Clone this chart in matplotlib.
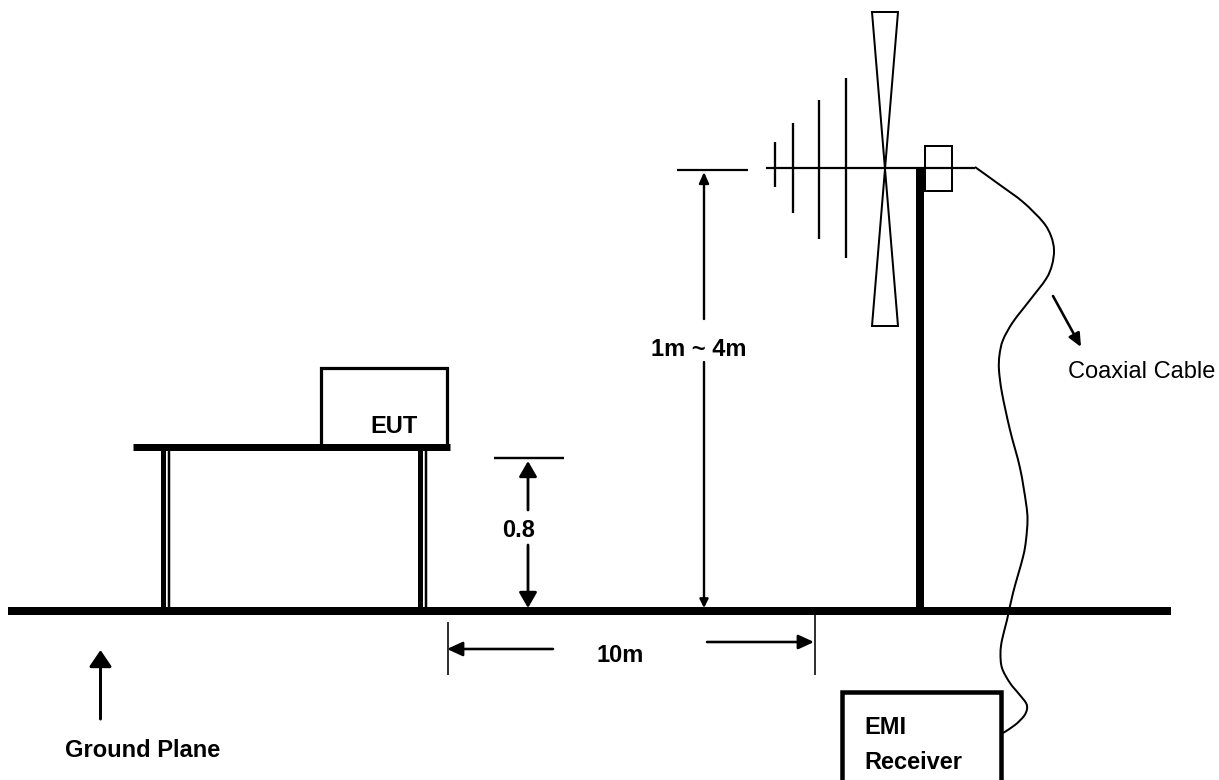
import matplotlib
matplotlib.use("Agg")
import matplotlib.pyplot as plt
from matplotlib.path import Path
from matplotlib.patches import PathPatch, Rectangle

plt.rcParams['font.family'] = ['Liberation Sans', 'DejaVu Sans']

# everything below is in picture pixels, y going down
cable_x = [975, 1000, 1023, 1043, 1051, 1054, 1052, 1046, 1030, 1013, 1003, 999.5, 999, 1002, 1010, 1020,
           1026, 1027.5, 1026, 1023, 1013, 1007, 1002, 1000.5, 1002, 1010, 1019, 1026, 1027, 1024, 1015, 1003]
cable_y = [167, 185, 202, 222, 236, 250, 265, 279, 300, 322, 340, 355, 370, 393, 430, 468,
           503, 520, 540, 557, 593, 620, 640, 653, 668, 683, 694, 703, 709, 716, 725, 733]

element_x = [775, 793, 819, 845.5]
element_top = [142, 123, 100, 78]
element_bottom = [187, 213, 239, 258]

# start x, start y, tip x, tip y, head length, head width, line width
arrows = [
    (528, 510, 528, 461, 13, 15, 2.8),
    (528, 545, 528, 608, 13, 15, 2.8),
    (704, 319, 704, 172, 9, 8, 2.4),
    (704, 362, 704, 608, 7, 7, 2.4),
    (553, 649, 447, 649, 13, 12, 2.6),
    (707, 642, 814, 642, 13, 12, 2.6),
    (100.5, 719, 100.5, 650, 14, 19, 3),
    (1053, 296, 1081, 347, 11, 10, 2.6),
]

labels = ["EUT", "0.8", "1m ~ 4m", "10m", "Ground Plane", "EMI", "Receiver"]
label_x = [370, 502, 651, 596, 65, 864, 864]
label_y = [433, 537, 356, 662, 757, 734, 769]


def px(v):
    return v * 0.72


fig = plt.figure(figsize=(12.19, 7.80), dpi=100)
ax = fig.add_axes([0, 0, 1, 1])
ax.set_xlim(0, 1219)
ax.set_ylim(780, 0)
ax.axis("off")


def line(xs, ys, w, zorder=2):
    ax.plot(xs, ys, color="black", lw=px(w), solid_capstyle="butt", solid_joinstyle="miter", zorder=zorder)


# ground plane
line([8, 1171], [611, 611], 8)

# table
line([133, 450], [447, 447], 7)
line([162.5, 162.5], [447, 607], 5)
line([169, 169], [447, 607], 2.5)
line([419.5, 419.5], [447, 607], 5)
line([426, 426], [447, 607], 2.5)

# EUT box
line([321, 321, 447, 447], [447, 367.5, 367.5, 447], 3.2)

# height marks
line([494, 564], [458, 458], 2.4)
line([677, 748], [170, 170], 2.2)

# 10m marks
line([448, 448], [622, 675], 1.6)
line([815, 815], [615, 675], 1.6)

# antenna
line([766, 975], [168, 168], 2.2)
for x, top, bottom in zip(element_x, element_top, element_bottom):
    line([x, x], [top, bottom], 2.3)
ax.plot([872, 898, 872, 898, 872], [12, 12, 326, 326, 12], color="black", lw=px(2), solid_joinstyle="miter", zorder=2)
line([920, 920], [168, 607], 8)
ax.add_patch(Rectangle((924.5, 145.5), 27.5, 45.5, fc="none", ec="black", lw=px(2), zorder=3))

# EMI receiver box
ax.add_patch(Rectangle((841.5, 692), 159, 90, fc="white", ec="black", lw=px(4.5), zorder=3))

# cable goes through the listed points, Catmull-Rom handles turned into bezier segments
n = len(cable_x)
verts = [(cable_x[0], cable_y[0])]
codes = [Path.MOVETO]
for i in range(n - 1):
    a = max(i - 1, 0)
    d = min(i + 2, n - 1)
    c1 = (cable_x[i] + (cable_x[i + 1] - cable_x[a]) / 6, cable_y[i] + (cable_y[i + 1] - cable_y[a]) / 6)
    c2 = (cable_x[i + 1] - (cable_x[d] - cable_x[i]) / 6, cable_y[i + 1] - (cable_y[d] - cable_y[i]) / 6)
    verts += [c1, c2, (cable_x[i + 1], cable_y[i + 1])]
    codes += [Path.CURVE4, Path.CURVE4, Path.CURVE4]
ax.add_patch(PathPatch(Path(verts, codes), fc="none", ec="black", lw=px(2), zorder=4))

for x0, y0, x1, y1, hl, hw, w in arrows:
    ms = 10
    style = "-|>,head_length=%.3f,head_width=%.3f" % (px(hl) / ms, px(hw) / 2 / ms)
    ax.annotate("", xy=(x1, y1), xytext=(x0, y0),
                arrowprops=dict(arrowstyle=style, mutation_scale=ms, color="black", lw=px(w),
                                shrinkA=0, shrinkB=0), zorder=5)

for s, x, y in zip(labels, label_x, label_y):
    ax.text(x, y, s, fontsize=17, fontweight="bold", ha="left", va="baseline", color="black", zorder=6)
ax.text(1068, 378, "Coaxial Cable", fontsize=17, ha="left", va="baseline", color="black", zorder=6)

fig.savefig("out.png", dpi=100)
